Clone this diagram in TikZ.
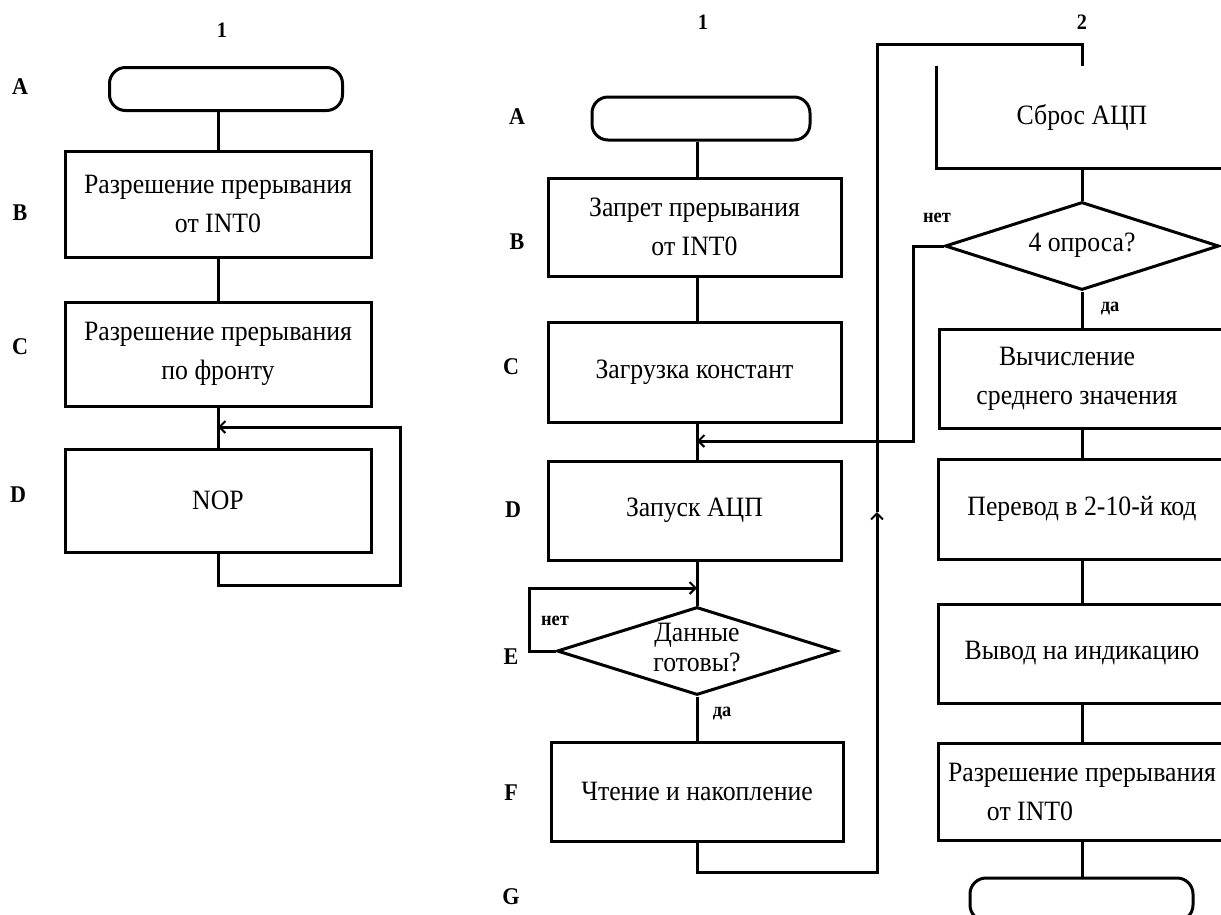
\documentclass[tikz,border=0pt]{standalone}
\usepackage{fontspec}
\setmainfont{Liberation Serif}[FakeStretch=0.92]
\usetikzlibrary{arrows.meta,shapes.geometric}
\newcommand{\diatxt}[1]{\raisebox{-11pt}{\smash{\makebox[0pt]{\fontsize{28}{30}\selectfont\begin{tabular}{@{}c@{}}#1\end{tabular}}}}}
\begin{document}
\begin{tikzpicture}[x=1pt,y=-1pt,
  line width=3pt,
  every node/.style={inner sep=0pt, font=\fontsize{28}{39}\selectfont},
  box/.style={draw, rectangle, line width=3pt, align=center},
  openbox/.style={rectangle, align=center},
  term/.style={draw, rectangle, rounded corners=16pt, line width=3pt, minimum height=43pt},
  dia/.style={draw, diamond, line width=3pt},
  rowlab/.style={font=\fontsize{24}{28}\selectfont\bfseries},
  colnum/.style={font=\fontsize{22}{26}\selectfont\bfseries},
  yn/.style={font=\fontsize{20}{24}\selectfont\bfseries},
  arr/.style={-{Straight Barb[length=6pt,width=12pt,line width=2pt]}}
]
\clip (0,0) rectangle (1221,914);

% ---------- left chart ----------
\node[colnum] (n1a) at (222,30) {1};
\node[rowlab] (la) at (20,87) {A};
\node[rowlab] (lb) at (20,213) {B};
\node[rowlab] (lc) at (20,347) {C};
\node[rowlab] (ld) at (18,495) {D};

\node[term, minimum width=233pt] (tA) at (226,89) {};
\node[box, minimum width=306pt, minimum height=106pt] (bB) at (218,204) {Разрешение прерывания\\от INT0};
\node[box, minimum width=306pt, minimum height=104pt] (bC) at (218,354) {Разрешение прерывания\\по фронту};
\node[box, minimum width=306pt, minimum height=103pt] (bD) at (218,500.5) {NOP};

\draw (bB.north |- tA.south) -- (bB.north);
\draw (bB.south) -- (bC.north);
\draw (bC.south) -- (bD.north);
\coordinate (lr) at (400,585);
\coordinate (lt) at (400,427);
\draw[arr] (bD.south) |- (lr) -- (lt) -- (bD.north |- lt);

% ---------- middle chart ----------
\node[colnum] (n1b) at (703,22) {1};
\node[rowlab] (ma) at (517,117) {A};
\node[rowlab] (mb) at (517,242) {B};
\node[rowlab] (mc) at (511,367) {C};
\node[rowlab] (md) at (513,510) {D};
\node[rowlab] (me) at (511,657) {E};
\node[rowlab] (mf) at (511,793) {F};
\node[rowlab] (mg) at (511,897) {G};

\node[term, minimum width=218pt] (tA2) at (701,118.5) {};
\node[box, minimum width=293pt, minimum height=98pt] (bB2) at (694.5,227) {Запрет прерывания\\от INT0};
\node[box, minimum width=293pt, minimum height=100pt] (bC2) at (694.5,372) {Загрузка констант};
\node[box, minimum width=293pt, minimum height=99pt] (bD2) at (694.5,510.5) {Запуск АЦП};
\node[dia, minimum width=280pt, minimum height=88pt] (dE) at (697,651) {\diatxt{Данные\\готовы?}};
\node[box, minimum width=292pt, minimum height=99pt] (bF2) at (697,791.5) {Чтение и накопление};

\node[yn] (ne1) at (555,621) {нет};
\node[yn] (da1) at (722,714) {да};

\draw (dE.north |- tA2.south) -- (dE.north |- bB2.north);
\draw (dE.north |- bB2.south) -- (dE.north |- bC2.north);
\draw (dE.north |- bC2.south) -- (dE.north |- bD2.north);
\draw (dE.north |- bD2.south) -- (dE.north);
\draw (dE.south) -- (dE.south |- bF2.north);
\coordinate (eL) at (529,588);
\draw[arr] (dE.west) -| (eL) -- (dE.north |- eL);

\coordinate (g1) at (877,872);
\coordinate (gup) at (877,512);
\coordinate (g2) at (877,44);

% ---------- right chart ----------
\node[colnum] (n2) at (1082,22) {2};
\node[openbox, minimum width=288pt, minimum height=100pt] (bS) at (1082,117) {Сброс АЦП};
\draw (bS.north west) -- (bS.south west) -- (bS.south east) -- (bS.north east);
\node[dia, minimum width=274pt, minimum height=88pt] (dQ) at (1082,246) {\diatxt{4 опроса?}};
\node[yn] (ne2) at (937,218) {нет};
\node[yn] (da2) at (1110,309) {да};
\node[box, minimum width=288pt, minimum height=99pt] (bV) at (1083,378.5) {\hspace*{-32pt}Вычисление\\\hspace*{-12pt}среднего значения};
\node[box, minimum width=288pt, minimum height=100pt] (bP) at (1082,509) {Перевод в 2-10-й код};
\node[box, minimum width=288pt, minimum height=99pt] (bO) at (1082,653.5) {Вывод на индикацию};
\node[box, minimum width=288pt, minimum height=97pt] (bR) at (1082,791.5) {Разрешение прерывания\\\hspace*{-104pt}от INT0};
\node[term, minimum width=223pt] (tEnd) at (1081.5,899.5) {};

\draw (bS.south) -- (dQ.north);
\draw (dQ.south) -- (bV.north -| dQ.south);
\draw (bV.south -| dQ.south) -- (bP.north -| dQ.south);
\draw (bP.south) -- (bO.north);
\draw (bO.south) -- (bR.north);
\draw (bR.south) -- (tEnd.north -| bR.south);

\coordinate (qn) at (913,441);
\draw[arr] (dQ.west) -| (qn) -- (dE.north |- qn);

% long connector from F to Сброс АЦП
\draw[arr] (bF2.south) |- (g1) -- (gup);
\draw (gup) -- (g2) -| (bS.north);
\end{tikzpicture}
\end{document}
